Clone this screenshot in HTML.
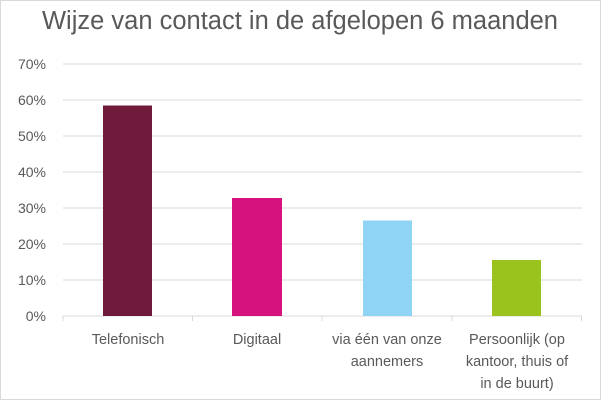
<!DOCTYPE html>
<html><head><meta charset="utf-8"><style>
body{margin:0;background:#fff}
svg{display:block}
text{font-family:"Liberation Sans",sans-serif;fill:#595959}
</style></head><body>
<svg width="601" height="400" viewBox="0 0 601 400">
<rect x="0.5" y="0.5" width="600" height="399" fill="#fff" stroke="#d9d9d9"/>
<text x="300" y="29" font-size="25.5" text-anchor="middle">Wijze van contact in de afgelopen 6 maanden</text>
<g stroke="#d9d9d9" stroke-width="1">
<line x1="63" x2="582" y1="64" y2="64"/>
<line x1="63" x2="582" y1="100" y2="100"/>
<line x1="63" x2="582" y1="136" y2="136"/>
<line x1="63" x2="582" y1="172" y2="172"/>
<line x1="63" x2="582" y1="208" y2="208"/>
<line x1="63" x2="582" y1="244" y2="244"/>
<line x1="63" x2="582" y1="280" y2="280"/>
<line x1="63" x2="582" y1="316" y2="316"/>
<line x1="63" x2="63" y1="316" y2="321"/>
<line x1="192.5" x2="192.5" y1="316" y2="321"/>
<line x1="322" x2="322" y1="316" y2="321"/>
<line x1="452" x2="452" y1="316" y2="321"/>
<line x1="581.5" x2="581.5" y1="316" y2="321"/>
</g>
<g font-size="14" text-anchor="end">
<text x="46" y="69">70%</text><text x="46" y="105">60%</text><text x="46" y="141">50%</text><text x="46" y="177">40%</text>
<text x="46" y="213">30%</text><text x="46" y="249">20%</text><text x="46" y="285">10%</text><text x="46" y="321">0%</text>
</g>
<rect x="103" y="105.5" width="49" height="210.5" fill="#6f1a3a"/>
<rect x="232" y="198" width="50" height="118" fill="#d6127e"/>
<rect x="363" y="220.5" width="49" height="95.5" fill="#8fd3f5"/>
<rect x="492" y="260" width="49" height="56" fill="#9bc31e"/>
<g font-size="14.5" text-anchor="middle">
<text x="128" y="344">Telefonisch</text>
<text x="257" y="344">Digitaal</text>
<text x="387" y="344">via één van onze</text>
<text x="387" y="366">aannemers</text>
<text x="517" y="344">Persoonlijk (op</text>
<text x="517" y="366">kantoor, thuis of</text>
<text x="517" y="388">in de buurt)</text>
</g>
</svg>
</body></html>
